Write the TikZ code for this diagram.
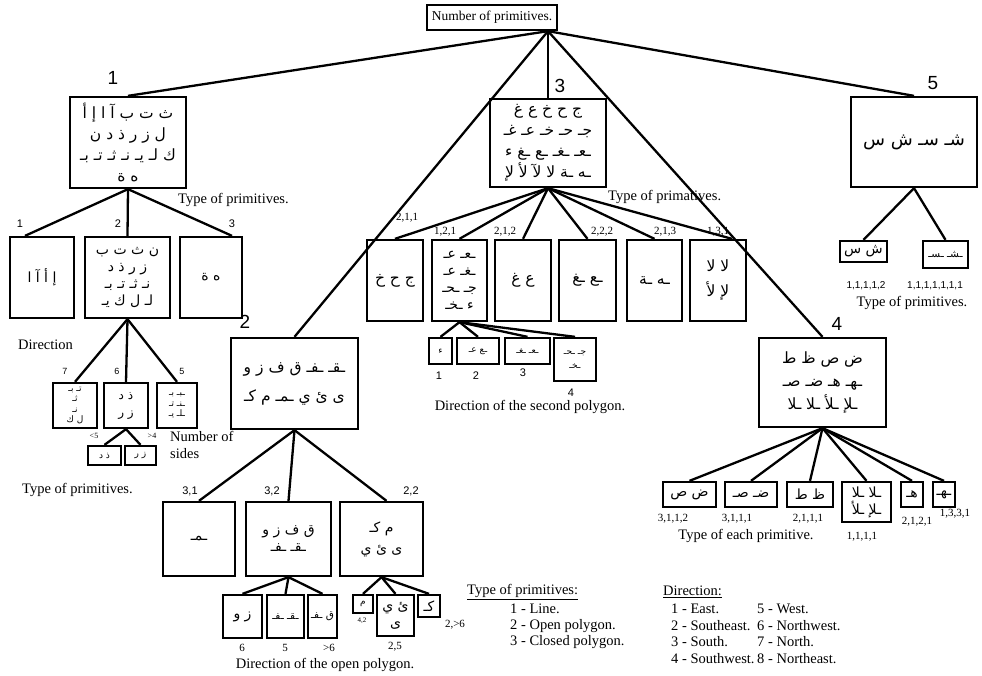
\documentclass[tikz,border=0pt]{standalone}
\usepackage{fontspec}
\setmainfont{Liberation Serif}
\newfontfamily\labelfont{Liberation Sans}
\newfontfamily\arabicfont[Script=Arabic]{DejaVu Sans}
\TeXXeTstate=1
\newcommand{\ar}[1]{{\arabicfont\beginR #1\endR}}

\begin{document}
\begin{tikzpicture}[x=1pt, y=-1pt,
    box/.style={draw, line width=2.3pt, inner sep=0pt, align=center},
    wh/.style 2 args={minimum width=#1, minimum height=#2},
    link/.style={line width=2.3pt},
    txt/.style={font=\fontsize{14.5}{17}\selectfont, inner sep=0pt},
    num/.style={font=\labelfont\fontsize{19}{19}\selectfont, inner sep=0pt},
    tag/.style={font=\fontsize{11}{11}\selectfont, inner sep=0pt},
    stag/.style={font=\labelfont\fontsize{11}{11}\selectfont, inner sep=0pt},
    ttag/.style={font=\labelfont\fontsize{9}{9}\selectfont, inner sep=0pt},
    arbig/.style={font=\fontsize{15.5}{21}\selectfont},
    armid/.style={font=\fontsize{14}{17}\selectfont},
    arlow/.style={font=\fontsize{10.5}{13}\selectfont},
    arsmall/.style={font=\fontsize{9}{10.5}\selectfont}]
    \useasboundingbox (0,0) rectangle (982,676);

    \node[box, wh={130}{25}, font=\fontsize{13.5}{14}\selectfont] (root) at (492,17.5) {Number of primitives.};

    \node[box, wh={116}{91}, arbig] (b1) at (128,142.5) {\ar{ث ت ب آ ا إ أ}\\ \ar{ل ز ر ذ د ن}\\ \ar{ك لـ يـ نـ ثـ تـ بـ}\\ \ar{ه ة}};
    \node[box, wh={127}{91}, arbig] (b2) at (294.5,383.5) {\ar{ـقـ ـفـ ق ف ز و}\\[8pt] \ar{ى ئ ي ـمـ م كـ}};
    \node[box, wh={116}{88}, arbig] (b3) at (548,143) {\ar{ج ح خ ع غ}\\ \ar{جـ حـ خـ عـ غـ}\\ \ar{ـعـ ـغـ ـع ـغ ء}\\ \ar{ـه ـة لا لآ لأ لإ}};
    \node[box, wh={127}{89}, arbig] (b4) at (822.5,382.5) {\ar{ض ص ظ ط}\\[2pt] \ar{ـهـ هـ ضـ صـ}\\[2pt] \ar{ـلإ ـلأ ـلا ـلا}};
    \node[box, wh={126}{90}, font=\fontsize{18}{20}\selectfont] (b5) at (914,142) {\ar{شـ سـ ش س}};

    \node[num] (n1) at (113,78) {1};
    \node[num] (n2) at (245,322) {2};
    \node[num] (n3) at (560,86) {3};
    \node[num] (n4) at (837,324) {4};
    \node[num] (n5) at (933,83) {5};

    \coordinate (hub) at (b3.north |- root.south);
    \draw[link] (hub) -- (b1.north);
    \draw[link] (hub) -- (b2.north);
    \draw[link] (hub) -- (b3.north);
    \draw[link] (hub) -- (b4.north);
    \draw[link] (hub) -- (b5.north);

    % first branch
    \node[box, wh={64}{81}, armid] (b11) at (42,277.5) {\ar{إ أ آ ا}};
    \node[box, wh={85}{81}, armid] (b12) at (127.5,277.5) {\ar{ن ث ت ب}\\ \ar{ز ر ذ د}\\ \ar{نـ ثـ تـ بـ}\\ \ar{لـ ل ك يـ}};
    \node[box, wh={62}{81}, armid] (b13) at (211,277.5) {\ar{ه ة}};
    \draw[link] (b1.south) -- ([xshift=-17pt]b11.north);
    \draw[link] (b1.south) -- (b12.north);
    \draw[link] (b1.south) -- ([xshift=21pt]b13.north);
    \node[stag] (l11) at (20,224) {1};
    \node[stag] (l12) at (118,224) {2};
    \node[stag] (l13) at (232,224) {3};
    \node[txt, anchor=west] (tp1) at (178,200) {Type of primitives.};
    \node[txt, anchor=west] (dir1) at (18,345) {Direction};

    \node[box, wh={44}{45}, arsmall] (b121) at (75,405.5) {\ar{تـ بـ}\\ \ar{ثـ}\\ \ar{نـ}\\ \ar{ل ك}};
    \node[box, wh={44}{45}, font=\fontsize{12}{17}\selectfont] (b122) at (126,405.5) {\ar{ذ د}\\ \ar{ز ر}};
    \node[box, wh={40}{45}, arsmall] (b123) at (177,405.5) {\ar{ـبـ بـ}\\ \ar{ـنـ تـ}\\ \ar{ـلـ يـ}};
    \draw[link] (b12.south) -- (b121.north);
    \draw[link] (b12.south) -- (b122.north);
    \draw[link] (b12.south) -- (b123.north);
    \node[ttag] (l121) at (65,371) {7};
    \node[ttag] (l122) at (117,371) {6};
    \node[ttag] (l123) at (182,371) {5};

    \node[box, wh={33}{19}, arsmall] (b1221) at (104.5,455.5) {\ar{ذ د}};
    \node[box, wh={31}{19}, arsmall] (b1222) at (140.5,455.5) {\ar{ز ر}};
    \draw[link] (b122.south) -- (b1221.north);
    \draw[link] (b122.south) -- (b1222.north);
    \node[font=\fontsize{8}{8}\selectfont, inner sep=0pt] (l1221) at (94,436) {<5};
    \node[font=\fontsize{8}{8}\selectfont, inner sep=0pt] (l1222) at (152,436) {>4};
    \node[txt, anchor=north west, align=left] (nsides) at (170,431) {Number of\\sides};
    \node[txt, anchor=west] (tp2) at (22,490) {Type of primitives.};

    % second branch
    \node[box, wh={72}{74}, armid] (b21) at (199,539) {\ar{ـمـ}};
    \node[box, wh={85}{74}, armid] (b22) at (288.5,539) {\ar{ق ف ز و}\\ \ar{ـقـ ـفـ}};
    \node[box, wh={83}{74}, armid] (b23) at (381.5,539) {\ar{م كـ}\\[4pt] \ar{ى ئ ي}};
    \draw[link] (b2.south) -- (b21.north);
    \draw[link] (b2.south) -- (b22.north);
    \draw[link] (b2.south) -- ([xshift=5pt]b23.north);
    \node[stag] (l21) at (190,491) {3,1};
    \node[stag] (l22) at (272,491) {3,2};
    \node[stag] (l23) at (411,491) {2,2};

    \node[box, wh={39}{43}, armid] (b221) at (242.5,616.5) {\ar{ز و}};
    \node[box, wh={37}{43}, arlow] (b222) at (285.5,616.5) {\ar{ـقـ ـفـ}};
    \node[box, wh={29}{43}, arlow] (b223) at (322.5,616.5) {\ar{ق ـفـ}};
    \draw[link] (b22.south) -- (b221.north);
    \draw[link] (b22.south) -- (b222.north);
    \draw[link] (b22.south) -- (b223.north);
    \node[tag] (l221) at (242,648) {6};
    \node[tag] (l222) at (285,648) {5};
    \node[tag] (l223) at (329,648) {>6};

    \node[box, wh={20}{18}, arsmall] (b231) at (363,604) {\ar{م}};
    \node[box, wh={37}{41}, armid] (b232) at (395.5,615.5) {\ar{ئ ي}\\ \ar{ى}};
    \node[box, wh={22}{22}, armid] (b233) at (429,606) {\ar{كـ}};
    \draw[link] (b23.south) -- (b231.north);
    \draw[link] (b23.south) -- (b232.north);
    \draw[link] (b23.south) -- (b233.north);
    \node[font=\fontsize{7}{7}\selectfont, inner sep=0pt] (l231) at (362,621) {4,2};
    \node[tag] (l232) at (395,647) {2,5};
    \node[tag] (l233) at (455,625) {2,>6};
    \node[txt] (dop) at (325,665) {Direction of the open polygon.};

    % third branch
    \node[box, wh={56}{81}, arbig] (b31) at (395,280.5) {\ar{ج ح خ}};
    \node[box, wh={55}{81}, armid] (b32) at (459.5,280.5) {\ar{ـعـ عـ}\\ \ar{ـغـ عـ}\\ \ar{جـ ـحـ}\\ \ar{ء ـخـ}};
    \node[box, wh={56}{81}, arbig] (b33) at (523,280.5) {\ar{ع غ}};
    \node[box, wh={57}{81}, arbig] (b34) at (587.5,280.5) {\ar{ـع ـغ}};
    \node[box, wh={55}{81}, arbig] (b35) at (654.5,280.5) {\ar{ـه ـة}};
    \node[box, wh={56}{81}, arbig] (b36) at (718,280.5) {\ar{لا لا}\\[4pt] \ar{لإ لأ}};
    \draw[link] (b3.south) -- (b31.north);
    \draw[link] (b3.south) -- (b32.north);
    \draw[link] (b3.south) -- (b33.north);
    \draw[link] (b3.south) -- (b34.north);
    \draw[link] (b3.south) -- (b35.north);
    \draw[link] (b3.south) -- ([xshift=14pt]b36.north);
    \node[tag] (l31) at (407,218) {2,1,1};
    \node[tag] (l32) at (445,232) {1,2,1};
    \node[tag] (l33) at (505,232) {2,1,2};
    \node[tag] (l34) at (602,232) {2,2,2};
    \node[tag] (l35) at (665,232) {2,1,3};
    \node[tag] (l36) at (718,232) {1,3,1};
    \node[txt, anchor=west] (tp3) at (608,197) {Type of primatives.};

    \node[box, wh={23}{26}, arsmall] (b321) at (440.5,351) {\ar{ء}};
    \node[box, wh={42}{26}, arsmall] (b322) at (478,351) {\ar{ـع عـ}};
    \node[box, wh={45}{26}, arsmall] (b323) at (527.5,351) {\ar{ـعـ ـغـ}};
    \node[box, wh={42}{43}, arsmall] (b324) at (575,359.5) {\ar{جـ ـحـ}\\[3pt] \ar{ـخـ}};
    \draw[link] (b32.south) -- (b321.north);
    \draw[link] (b32.south) -- (b322.north);
    \draw[link] (b32.south) -- (b323.north);
    \draw[link] (b32.south) -- (b324.north);
    \node[stag] (l321) at (439,376) {1};
    \node[stag] (l322) at (476,376) {2};
    \node[stag] (l323) at (523,373) {3};
    \node[stag] (l324) at (571,393) {4};
    \node[txt] (dsp) at (530,407) {Direction of the second polygon.};

    % fourth branch
    \node[box, wh={53}{25}, armid] (b41) at (689.5,494.5) {\ar{ض ص}};
    \node[box, wh={52}{25}, armid] (b42) at (751,494.5) {\ar{ضـ صـ}};
    \node[box, wh={46}{25}, armid] (b43) at (810,494.5) {\ar{ظ ط}};
    \node[box, wh={49}{40}, armid] (b44) at (866.5,502) {\ar{ـلا ـلا}\\ \ar{ـلإ ـلأ}};
    \node[box, wh={22}{25}, armid] (b45) at (912,494.5) {\ar{هـ}};
    \node[box, wh={22}{25}, armid] (b46) at (944,494.5) {\ar{ـهـ}};
    \draw[link] (b4.south) -- (b41.north);
    \draw[link] (b4.south) -- (b42.north);
    \draw[link] (b4.south) -- (b43.north);
    \draw[link] (b4.south) -- (b44.north);
    \draw[link] (b4.south) -- (b45.north);
    \draw[link] (b4.south) -- (b46.north);
    \node[tag] (l41) at (673,519) {3,1,1,2};
    \node[tag] (l42) at (737,519) {3,1,1,1};
    \node[tag] (l43) at (808,519) {2,1,1,1};
    \node[tag] (l44) at (862,537) {1,1,1,1};
    \node[tag] (l45) at (917,522) {2,1,2,1};
    \node[tag] (l46) at (955,514) {1,3,3,1};
    \node[txt] (tep) at (746,536) {Type of each primitive.};

    % fifth branch
    \node[box, wh={47}{21}, armid] (b51) at (863.5,251.5) {\ar{ش س}};
    \node[box, wh={45}{27}, arlow] (b52) at (945.5,254.5) {\ar{ـشـ ـسـ}};
    \draw[link] (b5.south) -- (b51.north);
    \draw[link] (b5.south) -- (b52.north);
    \node[font=\labelfont\fontsize{10}{10}\selectfont, inner sep=0pt] (l51) at (866,286) {1,1,1,1,2};
    \node[font=\labelfont\fontsize{10}{10}\selectfont, inner sep=0pt] (l52) at (935,286) {1,1,1,1,1,1,1};
    \node[txt] (tp5) at (912,303) {Type of primitives.};

    % legend
    \node[txt, anchor=west] (lg1) at (467,592) {\underline{Type of primitives:}};
    \node[txt, anchor=west] (lg11) at (510,609) {1 - Line.};
    \node[txt, anchor=west] (lg12) at (510,626) {2 - Open polygon.};
    \node[txt, anchor=west] (lg13) at (510,642) {3 - Closed polygon.};
    \node[txt, anchor=west] (lg2) at (663,592) {\underline{Direction:}};
    \node[txt, anchor=west] (lg21) at (671,609) {1 - East.};
    \node[txt, anchor=west] (lg22) at (671,626) {2 - Southeast.};
    \node[txt, anchor=west] (lg23) at (671,642) {3 - South.};
    \node[txt, anchor=west] (lg24) at (671,659) {4 - Southwest.};
    \node[txt, anchor=west] (lg25) at (757,609) {5 - West.};
    \node[txt, anchor=west] (lg26) at (757,626) {6 - Northwest.};
    \node[txt, anchor=west] (lg27) at (757,642) {7 - North.};
    \node[txt, anchor=west] (lg28) at (757,659) {8 - Northeast.};
\end{tikzpicture}
\end{document}
